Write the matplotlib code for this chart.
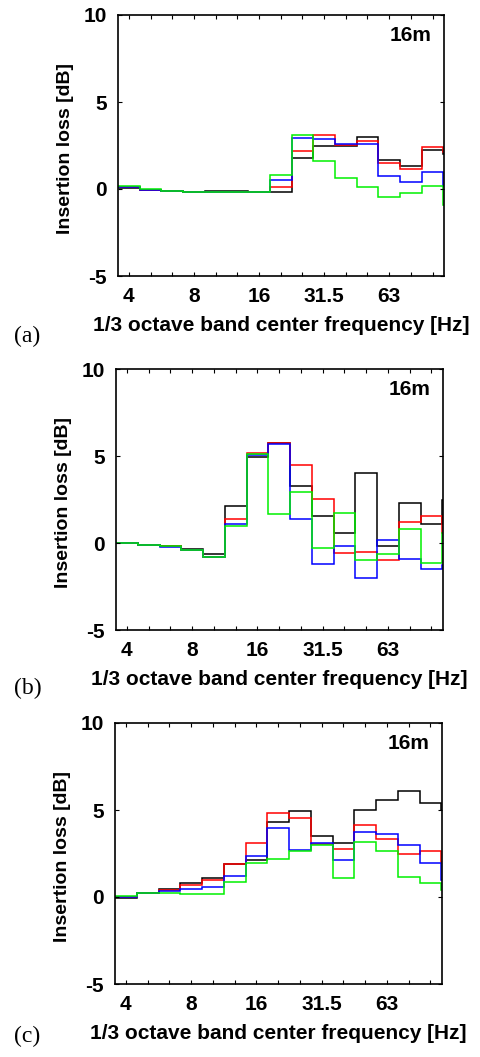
# =============================================================================
# Insertion loss at 16 m, three cases (a), (b), (c)
# =============================================================================
import numpy as np
import matplotlib
matplotlib.use('Agg')
import matplotlib.pyplot as plt

plt.rcParams['font.family'] = ['Liberation Sans', 'DejaVu Sans']
plt.rcParams['font.weight'] = 'bold'
plt.rcParams['axes.labelweight'] = 'bold'
plt.rcParams['axes.unicode_minus'] = False
plt.rcParams['font.size'] = 15

# --- Data -----------------------------------------------------------------
# 1/3 octave band centre frequencies [Hz]; the last band sits just past the axis
bands = ['4', '5', '6.3', '8', '10', '12.5', '16', '20', '25', '31.5',
         '40', '50', '63', '80', '100', '125']
shown_labels = ['4', '8', '16', '31.5', '63']

# (a)
a_black = [0.05, -0.05, -0.1, -0.15, -0.1, -0.1, -0.17, -0.15, 1.8, 2.5, 2.5, 3.0, 1.65, 1.35, 2.25, 2.0]
a_red   = [0.1, -0.05, -0.1, -0.15, -0.15, -0.15, -0.2, 0.1, 2.2, 3.1, 2.55, 2.75, 1.5, 1.15, 2.4, 2.1]
a_blue  = [0.1, -0.05, -0.1, -0.15, -0.15, -0.15, -0.15, 0.5, 2.95, 2.85, 2.6, 2.6, 0.75, 0.4, 1.0, 0.2]
a_green = [0.2, -0.02, -0.1, -0.15, -0.15, -0.2, -0.15, 0.8, 3.1, 1.6, 0.65, 0.1, -0.45, -0.25, 0.15, -0.9]

# (b)
b_black = [0.0, -0.1, -0.2, -0.35, -0.62, 2.1, 4.95, 5.73, 3.28, 1.57, 0.57, 4.04, -0.17, 2.3, 1.1, 2.5]
b_red   = [0.0, -0.1, -0.2, -0.4, -0.8, 1.36, 5.15, 5.75, 4.48, 2.53, -0.6, -0.54, -0.95, 1.2, 1.55, 0.6]
b_blue  = [0.0, -0.1, -0.22, -0.4, -0.8, 1.07, 5.05, 5.7, 1.36, -1.19, -0.19, -2.03, 0.17, -0.94, -1.48, -1.25]
b_green = [0.0, -0.1, -0.18, -0.4, -0.8, 0.98, 5.1, 1.65, 2.91, -0.27, 1.7, -1.0, -0.65, 0.79, -1.15, 0.6]

# (c)
c_black = [-0.08, 0.23, 0.48, 0.8, 1.1, 1.9, 2.13, 4.29, 4.94, 3.52, 3.13, 5.02, 5.6, 6.12, 5.38, 5.0]
c_red   = [0.0, 0.23, 0.4, 0.71, 1.0, 1.92, 3.13, 4.85, 4.52, 3.05, 2.73, 4.12, 3.31, 2.5, 2.67, 2.0]
c_blue  = [0.02, 0.23, 0.35, 0.44, 0.58, 1.19, 2.33, 3.94, 2.71, 3.12, 2.15, 3.75, 3.62, 3.0, 1.96, 0.95]
c_green = [0.08, 0.23, 0.25, 0.15, 0.19, 0.85, 1.98, 2.19, 2.62, 3.0, 1.08, 3.17, 2.62, 1.15, 0.83, 0.4]

panels = [
    ('(a)', [a_black, a_red, a_blue, a_green]),
    ('(b)', [b_black, b_red, b_blue, b_green]),
    ('(c)', [c_black, c_red, c_blue, c_green]),
]
colors = ['black', 'red', 'blue', '#00f000']

# --- Figure ---------------------------------------------------------------
fig = plt.figure(figsize=(4.8, 10.57), dpi=100)
W, H = 480, 1057
# axes boxes in pixels: left, top, right, bottom
boxes = [(118, 15, 444, 276), (116, 369, 443, 630), (115, 723, 442, 984)]
tag_y = [336, 688, 1036]

edges = np.arange(len(bands) + 1) - 0.5
n_shown = 15

for (tag, series), (l, t, r, b), ty in zip(panels, boxes, tag_y):
    ax = fig.add_axes([l / W, 1 - b / H, (r - l) / W, (b - t) / H])
    for vals, c in zip(series, colors):
        ax.stairs(vals, edges, color=c, linewidth=1.1)

    # a hair past the last band edge so the final step down stays visible
    ax.set_xlim(-0.5, n_shown - 0.47)
    ax.set_ylim(-5, 10)
    ax.set_yticks([-5, 0, 5, 10])
    ax.set_xticks(range(n_shown))
    ax.set_xticklabels([s if s in shown_labels else '' for s in bands[:n_shown]])
    ax.tick_params(direction='in', top=True, right=True, length=3, width=0.8,
                   pad=8)
    for sp in ax.spines.values():
        sp.set_linewidth(1.2)

    ax.set_ylabel('Insertion loss [dB]', fontsize=14)
    ax.yaxis.set_label_coords(-0.135, 0.49)
    ax.set_xlabel('1/3 octave band center frequency [Hz]')
    ax.xaxis.set_label_coords(0.5, -0.155)

    ax.text(0.963, 0.92, '16m', transform=ax.transAxes, ha='right', va='center')
    fig.text(14 / W, 1 - ty / H, tag, family='Liberation Serif',
             weight='normal', fontsize=17, ha='left', va='center')

fig.savefig('out.png', dpi=100)
